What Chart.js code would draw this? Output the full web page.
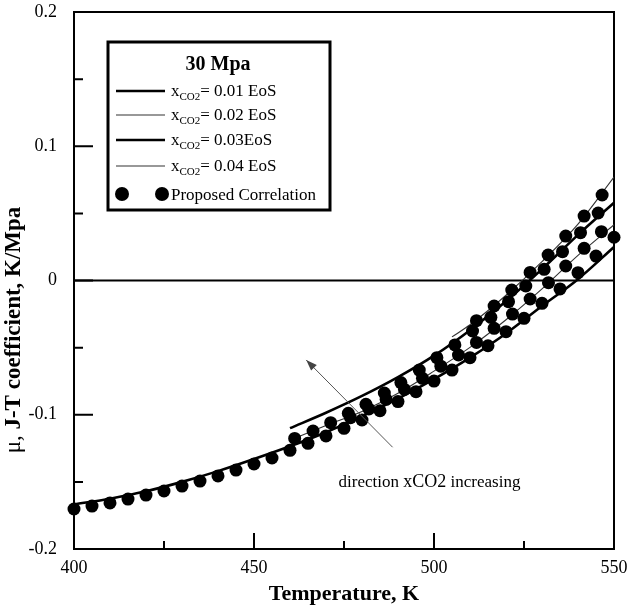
<!DOCTYPE html>
<html>
<head>
<meta charset="utf-8">
<script src="https://cdn.jsdelivr.net/npm/chart.js@4.4.1/dist/chart.umd.min.js"></script>
<style>
  html, body { margin: 0; padding: 0; background: #fff; }
  canvas { display: block; }
</style>
</head>
<body>
<canvas id="c" width="629" height="610"></canvas>
<script>
// ---- Tick positions and labels ----
const xTicks = [400, 450, 500, 550];
const xTickLabels = ['400', '450', '500', '550'];
const xMinorTicks = [425, 475, 525];
const yTicks = [-0.2, -0.1, 0, 0.1, 0.2];
const yTickLabels = ['-0.2', '-0.1', '0', '0.1', '0.2'];
const yMinorTicks = [-0.15, -0.05, 0.05, 0.15];

// ---- EoS curves (temperature K, J-T coefficient K/MPa) ----
const eos001T  = [400, 410, 420, 430, 440, 450, 460, 470, 480, 490, 500, 510, 520, 530, 540, 550];
const eos001Mu = [-0.1668, -0.1625, -0.1570, -0.1500, -0.1420, -0.1330, -0.1235, -0.1130, -0.1010, -0.0880, -0.0735, -0.0575, -0.0395, -0.0190, 0.0010, 0.0250];
const eos002T  = [460, 470, 480, 490, 500, 510, 520, 530, 540, 550];
const eos002Mu = [-0.1190, -0.1080, -0.0975, -0.0840, -0.0675, -0.0498, -0.0292, -0.0062, 0.0187, 0.0415];
const eos003T  = [460, 470, 480, 490, 500, 510, 520, 530, 540, 550];
const eos003Mu = [-0.1100, -0.0985, -0.0860, -0.0720, -0.0560, -0.0370, -0.0155, 0.0085, 0.0340, 0.0580];
const eos004T  = [505, 510, 520, 530, 540, 550];
const eos004Mu = [-0.0420, -0.0330, -0.0110, 0.0140, 0.0420, 0.0770];

// ---- Proposed correlation points ----
const corr001T  = [400, 405, 410, 415, 420, 425, 430, 435, 440, 445, 450, 455, 460, 465, 470, 475, 480, 485, 490, 495, 500, 505, 510, 515, 520, 525, 530, 535, 540, 545, 550];
const corr001Mu = [-0.1702, -0.1680, -0.1657, -0.1628, -0.1598, -0.1568, -0.1531, -0.1494, -0.1456, -0.1412, -0.1367, -0.1322, -0.1265, -0.1213, -0.1158, -0.1101, -0.1039, -0.0970, -0.0902, -0.0828, -0.0749, -0.0667, -0.0575, -0.0486, -0.0381, -0.0282, -0.0170, -0.0063, 0.0058, 0.0182, 0.0322];
const corr002T  = [476.8, 481.9, 486.7, 491.8, 496.8, 501.9, 506.8, 511.8, 516.7, 521.8, 526.7, 531.8, 536.6, 541.7, 546.5];
const corr002Mu = [-0.1022, -0.0957, -0.0885, -0.0811, -0.0729, -0.0638, -0.0555, -0.0461, -0.0356, -0.0250, -0.0138, -0.0016, 0.0108, 0.0240, 0.0364];
const corr003T  = [461.3, 466.4, 471.3, 476.2, 481.1, 486.2, 490.8, 495.9, 500.8, 505.8, 510.7, 515.8, 520.7, 525.5, 530.6, 535.7, 540.7, 545.6];
const corr003Mu = [-0.1176, -0.1121, -0.1059, -0.0989, -0.0922, -0.0838, -0.0760, -0.0667, -0.0575, -0.0480, -0.0376, -0.0274, -0.0158, -0.0041, 0.0083, 0.0215, 0.0356, 0.0503];
const corr004T  = [511.8, 516.7, 521.6, 526.7, 531.7, 536.6, 541.7, 546.7];
const corr004Mu = [-0.0299, -0.0190, -0.0071, 0.0060, 0.0190, 0.0331, 0.0480, 0.0637];

// ---- Text ----
const legendTitle = '30 Mpa';
const legendRows = [
  { pre: 'x', sub: 'CO2', post: '= 0.01 EoS' },
  { pre: 'x', sub: 'CO2', post: '= 0.02 EoS' },
  { pre: 'x', sub: 'CO2', post: '= 0.03EoS' },
  { pre: 'x', sub: 'CO2', post: '= 0.04 EoS' }
];
const legendDotsLabel = 'Proposed Correlation';
const xTitle = 'Temperature, K';
const yTitleLead = 'μ, ';
const yTitleMain = 'J-T coefficient, K/Mpa';
const noteParts = ['direction ', 'xCO2', ' increasing'];
// arrow (tail -> head) and note anchor in data units
const arrowTail = { x: 488.5, y: -0.1242 };
const arrowHead = { x: 464.5, y: -0.0592 };
const noteAnchor = { x: 473.5, y: -0.1538 };

const SERIF = '"Liberation Serif", "Times New Roman", serif';

function pts(xs, ys) { return xs.map((x, i) => ({ x: x, y: ys[i] })); }

const THICK = 2.6, THIN = 1.1;
const lineSet = (label, xs, ys, w, col) => ({
  label: label, data: pts(xs, ys), showLine: true, borderColor: col, borderWidth: w,
  pointRadius: 0, cubicInterpolationMode: 'monotone', fill: false, order: 2
});
const dotSet = (label, xs, ys) => ({
  label: label, data: pts(xs, ys), showLine: false, pointRadius: 6.5,
  pointBackgroundColor: '#000', pointBorderColor: '#000', pointBorderWidth: 0,
  order: 1, clip: false
});

const datasets = [
  dotSet('corr 0.01', corr001T, corr001Mu),
  dotSet('corr 0.02', corr002T, corr002Mu),
  dotSet('corr 0.03', corr003T, corr003Mu),
  dotSet('corr 0.04', corr004T, corr004Mu),
  lineSet('xCO2= 0.01 EoS', eos001T, eos001Mu, THICK, '#000'),
  lineSet('xCO2= 0.02 EoS', eos002T, eos002Mu, THIN, '#333'),
  lineSet('xCO2= 0.03EoS', eos003T, eos003Mu, THICK, '#000'),
  lineSet('xCO2= 0.04 EoS', eos004T, eos004Mu, THIN, '#333')
];

// keep the plot box fixed: no extra room for overhanging tick labels
function noOverhang(s) {
  s.paddingTop = 0; s.paddingBottom = 0; s.paddingLeft = 0; s.paddingRight = 0;
}

// Frame, zero line, inward ticks, y title, legend box and direction note
const decor = {
  id: 'decor',
  beforeDatasetsDraw(chart) {
    const { ctx, chartArea: a, scales: { x, y } } = chart;
    ctx.save();
    ctx.strokeStyle = '#000';
    // zero reference line
    ctx.lineWidth = 2;
    const y0 = y.getPixelForValue(0);
    ctx.beginPath(); ctx.moveTo(a.left, y0); ctx.lineTo(a.right, y0); ctx.stroke();
    // frame
    ctx.lineWidth = 2;
    ctx.strokeRect(a.left, a.top, a.right - a.left, a.bottom - a.top);
    // inward ticks
    ctx.lineWidth = 2;
    ctx.beginPath();
    yTicks.forEach(v => { const p = y.getPixelForValue(v); ctx.moveTo(a.left, p); ctx.lineTo(a.left + 19, p); });
    yMinorTicks.forEach(v => { const p = y.getPixelForValue(v); ctx.moveTo(a.left, p); ctx.lineTo(a.left + 9, p); });
    xTicks.forEach(v => { const p = x.getPixelForValue(v); ctx.moveTo(p, a.bottom); ctx.lineTo(p, a.bottom - 16); });
    xMinorTicks.forEach(v => { const p = x.getPixelForValue(v); ctx.moveTo(p, a.bottom); ctx.lineTo(p, a.bottom - 8); });
    ctx.stroke();
    ctx.restore();
  },
  afterDraw(chart) {
    const { ctx, chartArea: a, scales: { x, y } } = chart;
    ctx.save();
    // y axis title, "μ," regular and the rest bold
    ctx.translate(14, 330);
    ctx.rotate(-Math.PI / 2);
    ctx.fillStyle = '#000';
    ctx.textBaseline = 'middle';
    const fReg = '23px ' + SERIF, fBold = 'bold 23px ' + SERIF;
    ctx.font = fReg; const w1 = ctx.measureText(yTitleLead).width;
    ctx.font = fBold; const w2 = ctx.measureText(yTitleMain).width;
    let sx = -(w1 + w2) / 2;
    ctx.font = fReg; ctx.fillText(yTitleLead, sx, 0);
    ctx.font = fBold; ctx.fillText(yTitleMain, sx + w1, 0);
    ctx.restore();

    // legend box
    ctx.save();
    const L = 108, T = 42, R = 330, B = 210;
    ctx.fillStyle = '#fff';
    ctx.fillRect(L, T, R - L, B - T);
    ctx.strokeStyle = '#000'; ctx.lineWidth = 3;
    ctx.strokeRect(L, T, R - L, B - T);
    ctx.fillStyle = '#000';
    ctx.font = 'bold 20px ' + SERIF;
    ctx.textAlign = 'center'; ctx.textBaseline = 'alphabetic';
    ctx.fillText(legendTitle, 218, 70);
    ctx.textAlign = 'left';
    const rowsY = [91, 115, 140, 166];
    const lineDs = chart.data.datasets.filter(d => d.showLine);
    legendRows.forEach((r, i) => {
      const ry = rowsY[i];
      const ds = lineDs[i];
      ctx.strokeStyle = ds.borderColor; ctx.lineWidth = ds.borderWidth;
      ctx.beginPath(); ctx.moveTo(116, ry); ctx.lineTo(165, ry); ctx.stroke();
      let tx = 171;
      ctx.font = '17px ' + SERIF;
      ctx.fillText(r.pre, tx, ry + 5); tx += ctx.measureText(r.pre).width;
      ctx.font = '11px ' + SERIF;
      ctx.fillText(r.sub, tx, ry + 9); tx += ctx.measureText(r.sub).width;
      ctx.font = '17px ' + SERIF;
      ctx.fillText(r.post, tx, ry + 5);
    });
    const dy = 194;
    ctx.beginPath(); ctx.arc(122, dy, 7, 0, Math.PI * 2); ctx.fill();
    ctx.beginPath(); ctx.arc(162, dy, 7, 0, Math.PI * 2); ctx.fill();
    ctx.font = '17px ' + SERIF;
    ctx.fillText(legendDotsLabel, 171, dy + 6);
    ctx.restore();

    // direction arrow
    ctx.save();
    const tx0 = x.getPixelForValue(arrowTail.x), ty0 = y.getPixelForValue(arrowTail.y);
    const hx = x.getPixelForValue(arrowHead.x), hy = y.getPixelForValue(arrowHead.y);
    ctx.strokeStyle = '#555'; ctx.fillStyle = '#444'; ctx.lineWidth = 1;
    ctx.beginPath(); ctx.moveTo(tx0, ty0); ctx.lineTo(hx, hy); ctx.stroke();
    const ang = Math.atan2(hy - ty0, hx - tx0);
    const hl = 11, hw = 4;
    ctx.beginPath();
    ctx.moveTo(hx, hy);
    ctx.lineTo(hx - hl * Math.cos(ang) + hw * Math.sin(ang), hy - hl * Math.sin(ang) - hw * Math.cos(ang));
    ctx.lineTo(hx - hl * Math.cos(ang) - hw * Math.sin(ang), hy - hl * Math.sin(ang) + hw * Math.cos(ang));
    ctx.closePath(); ctx.fill();
    // note text
    ctx.fillStyle = '#000';
    ctx.textBaseline = 'alphabetic';
    let nx = x.getPixelForValue(noteAnchor.x); const ny = y.getPixelForValue(noteAnchor.y);
    ctx.font = '17px ' + SERIF;
    ctx.fillText(noteParts[0], nx, ny); nx += ctx.measureText(noteParts[0]).width;
    ctx.font = '18px ' + SERIF;
    ctx.fillText(noteParts[1], nx, ny); nx += ctx.measureText(noteParts[1]).width;
    ctx.font = '17px ' + SERIF;
    ctx.fillText(noteParts[2], nx, ny);
    ctx.restore();
  }
};

new Chart(document.getElementById('c'), {
  type: 'scatter',
  data: { datasets: datasets },
  options: {
    responsive: false,
    devicePixelRatio: 1,
    animation: false,
    layout: { autoPadding: false, padding: { top: 12, right: 15, left: 0, bottom: 0 } },
    plugins: { legend: { display: false }, tooltip: { enabled: false } },
    scales: {
      x: {
        type: 'linear', min: 400, max: 550,
        afterBuildTicks: s => { s.ticks = xTicks.map(v => ({ value: v })); },
        afterFit: s => { s.height = 61; noOverhang(s); },
        ticks: {
          callback: v => xTickLabels[xTicks.indexOf(v)],
          font: { family: SERIF, size: 18 }, color: '#000', padding: 8, maxRotation: 0
        },
        grid: { display: false, drawTicks: false },
        border: { display: false },
        title: { display: true, text: xTitle, font: { family: SERIF, size: 22, weight: 'bold' }, color: '#000', padding: { top: 0, bottom: 2 } }
      },
      y: {
        type: 'linear', min: -0.2, max: 0.2,
        afterBuildTicks: s => { s.ticks = yTicks.map(v => ({ value: v })); },
        afterFit: s => { s.width = 74; noOverhang(s); },
        ticks: {
          callback: v => yTickLabels[yTicks.indexOf(v)],
          font: { family: SERIF, size: 18 }, color: '#000', padding: 17
        },
        grid: { display: false, drawTicks: false },
        border: { display: false }
      }
    }
  },
  plugins: [decor]
});
</script>
</body>
</html>
